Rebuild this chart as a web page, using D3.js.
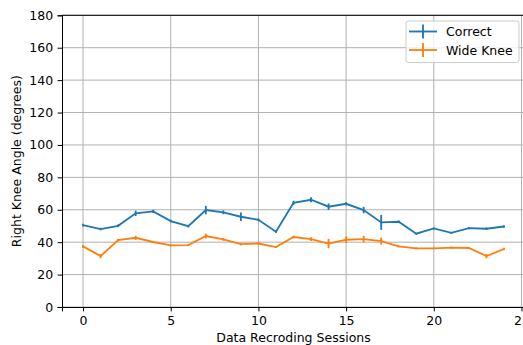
<!DOCTYPE html>
<html>
<head>
<meta charset="utf-8">
<script src="https://cdn.jsdelivr.net/npm/d3@7"></script>
<style>
  body { margin: 0; background: #fff; overflow: hidden; }
  svg { display: block; font-family: "DejaVu Sans", sans-serif; }
</style>
</head>
<body>
<div id="container"></div>
<script>
/* DATA */
const sessions = d3.range(0, 25);
const correctMean = [50.5, 48.1, 50.1, 57.8, 59.0, 53.0, 49.9, 59.8, 58.4, 55.7, 53.8, 46.4, 64.3,
  66.2, 61.9, 63.7, 59.8, 52.2, 52.6, 45.2, 48.5, 45.8, 48.7, 48.3, 49.7];
const correctErr = [0.8, 0.8, 0.8, 1.7, 1, 0.8, 0.8, 2.6, 1.2, 2.6, 0.8, 0.6, 1.3,
  1.5, 2, 1, 2, 4.6, 0.8, 0.6, 0.6, 0.6, 0.6, 0.8, 0.8];
const wideMean = [37.4, 31.4, 41.3, 42.7, 40.1, 38.0, 38.2, 43.8, 41.7, 38.8, 39.2, 37.0, 43.2,
  41.9, 39.1, 41.5, 41.9, 40.7, 37.4, 36.2, 36.2, 36.6, 36.4, 31.4, 35.8];
const wideErr = [0.8, 1.3, 0.8, 1.3, 0.6, 0.6, 0.6, 1.5, 0.8, 0.8, 0.8, 0.6, 0.8,
  1.2, 2.9, 2, 2, 2.2, 0.6, 0.6, 0.6, 0.6, 0.6, 1.3, 0.8];
const seriesNames = ["Correct", "Wide Knee"];
const seriesColors = ["#1f77b4", "#ff7f0e"];
const xTicks = [0, 5, 10, 15, 20, 25];
const yTicks = [0, 20, 40, 60, 80, 100, 120, 140, 160, 180];

/* CONSTANTS */
const width = 523, height = 345,
  margin = { top: 15.3, bottom: 38, left: 62, right: -2 },
  fontSize = "12.5px",
  lw = 1.85;

const svg = d3.select("#container")
  .append("svg")
  .attr("width", width)
  .attr("height", height);

const x = d3.scaleLinear()
  .domain([-1.2, 25.2])
  .range([margin.left, width - margin.right]);

const y = d3.scaleLinear()
  .domain([0, 180])
  .range([height - margin.bottom, margin.top]);

// GRID
svg.append("g")
  .selectAll("line")
  .data(xTicks)
  .join("line")
  .attr("x1", d => x(d)).attr("x2", d => x(d))
  .attr("y1", y(0)).attr("y2", y(180))
  .attr("stroke", "#b0b0b0")
  .attr("stroke-width", 1);

svg.append("g")
  .selectAll("line")
  .data(yTicks)
  .join("line")
  .attr("x1", x(-1.2)).attr("x2", x(25.2))
  .attr("y1", d => y(d)).attr("y2", d => y(d))
  .attr("stroke", "#b0b0b0")
  .attr("stroke-width", 1);

// AXES
const xAxis = svg.append("g")
  .attr("transform", `translate(0,${y(0)})`)
  .call(d3.axisBottom(x).tickValues(xTicks).tickSize(4.4).tickPadding(4.4));
const yAxis = svg.append("g")
  .attr("transform", `translate(${x(-1.2)},0)`)
  .call(d3.axisLeft(y).tickValues(yTicks).tickSize(4.4).tickPadding(4.4));

[xAxis, yAxis].forEach(g => {
  g.selectAll("text").style("font-size", fontSize).attr("fill", "#000")
    .style("font-family", "DejaVu Sans, sans-serif");
  g.select(".domain").attr("stroke-width", 1);
  g.selectAll(".tick line").attr("stroke-width", 1);
});

// top spine
svg.append("line")
  .attr("x1", x(-1.2)).attr("x2", x(25.2))
  .attr("y1", y(180)).attr("y2", y(180))
  .attr("stroke", "#000").attr("stroke-width", 1);

// LABELS
svg.append("text")
  .attr("x", (x(-1.2) + x(25.2)) / 2)
  .attr("y", 342)
  .attr("text-anchor", "middle")
  .style("font-size", fontSize)
  .text("Data Recroding Sessions");

svg.append("text")
  .attr("transform", `translate(21,${(y(0) + y(180)) / 2}) rotate(-90)`)
  .attr("text-anchor", "middle")
  .style("font-size", fontSize)
  .text("Right Knee Angle (degrees)");

// SERIES
const series = [
  { mean: correctMean, err: correctErr },
  { mean: wideMean, err: wideErr }
];

const line = d3.line()
  .x((d, i) => x(sessions[i]))
  .y(d => y(d));

series.forEach((s, k) => {
  const g = svg.append("g");
  g.append("path")
    .attr("d", line(s.mean))
    .attr("fill", "none")
    .attr("stroke", seriesColors[k])
    .attr("stroke-width", lw);
  g.selectAll("line")
    .data(s.mean)
    .join("line")
    .attr("x1", (d, i) => x(sessions[i]))
    .attr("x2", (d, i) => x(sessions[i]))
    .attr("y1", (d, i) => y(d - s.err[i]))
    .attr("y2", (d, i) => y(d + s.err[i]))
    .attr("stroke", seriesColors[k])
    .attr("stroke-width", lw);
});

// LEGEND
const legend = svg.append("g").attr("transform", "translate(406,21)");
legend.append("rect")
  .attr("width", 113).attr("height", 41.5)
  .attr("rx", 2.5)
  .attr("fill", "#fff").attr("fill-opacity", 0.8)
  .attr("stroke", "#cccccc").attr("stroke-width", 1);

seriesNames.forEach((name, i) => {
  const row = legend.append("g").attr("transform", `translate(0,${10.5 + i * 18.5})`);
  row.append("line")
    .attr("x1", 3).attr("x2", 31)
    .attr("stroke", seriesColors[i]).attr("stroke-width", lw);
  row.append("line")
    .attr("x1", 17).attr("x2", 17).attr("y1", -7).attr("y2", 7)
    .attr("stroke", seriesColors[i]).attr("stroke-width", lw);
  row.append("text")
    .attr("x", 40).attr("y", 4.5)
    .style("font-size", fontSize)
    .text(name);
});
</script>
</body>
</html>
